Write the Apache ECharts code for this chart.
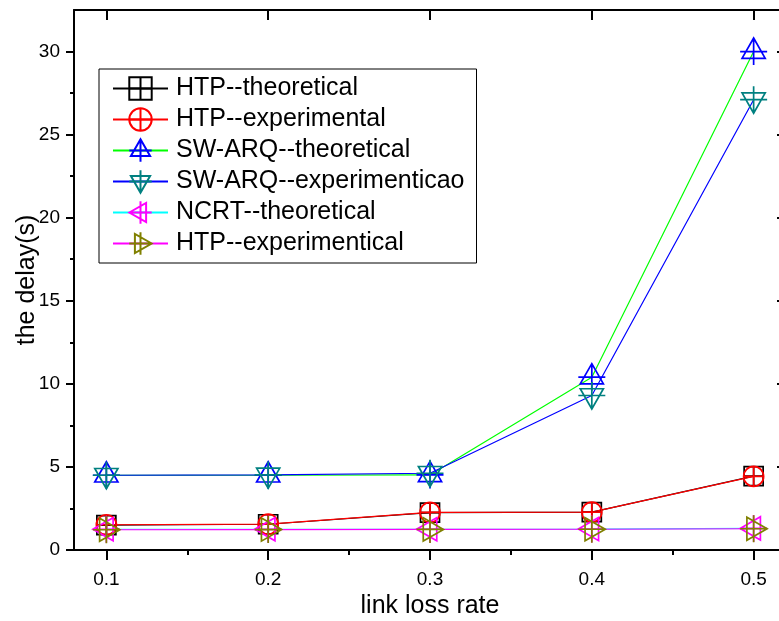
<!DOCTYPE html>
<html>
<head>
<meta charset="utf-8">
<title>Delay vs link loss rate</title>
<script src="https://cdn.jsdelivr.net/npm/echarts@6/dist/echarts.min.js"></script>
<style>
  html, body { margin: 0; padding: 0; background: #ffffff; }
  #chart { width: 779px; height: 621px; }
</style>
</head>
<body>
<div id="chart"></div>
<script>
// Link loss rates on the x axis
const lossRates = [0.1, 0.2, 0.3, 0.4, 0.5];

// Delay (s) for each scheme
const htpTheoretical = [1.5, 1.55, 2.25, 2.28, 4.45];
const htpExperimental = [1.52, 1.56, 2.26, 2.28, 4.43];
const swArqTheoretical = [4.5, 4.5, 4.52, 10.4, 30.0];
const swArqExperimental = [4.5, 4.52, 4.62, 9.3, 27.1];
const ncrtTheoretical = [1.25, 1.25, 1.25, 1.26, 1.3];
const htpExperimentical = [1.22, 1.23, 1.24, 1.25, 1.28];

// Tick positions
const xMajorTicks = [0.1, 0.2, 0.3, 0.4, 0.5];
const xMinorTicks = [0.15, 0.25, 0.35, 0.45];
const yMajorTicks = [0, 5, 10, 15, 20, 25, 30];
const yMinorTicks = [2.5, 7.5, 12.5, 17.5, 22.5, 27.5];

const FONT = 'Liberation Sans, Arial, Helvetica, sans-serif';

// Hollow markers with a cross through the centre
const SYM_SQUARE = 'path://M0,0L20,0L20,20L0,20ZM10,0L10,20M0,10L20,10';
const SYM_CIRCLE = 'path://M0,10A10,10,0,1,1,20,10A10,10,0,1,1,0,10ZM10,0L10,20M0,10L20,10';
const SYM_UP = 'path://M14,0L26,21L2,21ZM14,0L14,28M0,14L28,14';
const SYM_DOWN = 'path://M2,7L26,7L14,28ZM14,0L14,28M0,14L28,14';
const SYM_LEFT = 'path://M0,14L21,2L21,26ZM0,14L28,14M14,0L14,28';
const SYM_RIGHT = 'path://M28,14L7,2L7,26ZM0,14L28,14M14,0L14,28';

function pairs(values) {
  return lossRates.map((x, i) => [x, values[i]]);
}

function makeSeries(name, values, lineColor, markColor, symbol, size) {
  return {
    name: name,
    type: 'line',
    data: pairs(values),
    symbol: symbol,
    symbolSize: size,
    showAllSymbol: true,
    lineStyle: { color: lineColor, width: 1.2 },
    itemStyle: { color: 'rgba(0,0,0,0)', borderColor: markColor, borderWidth: 1.7 },
    emphasis: { disabled: true },
    xAxisIndex: 0,
    yAxisIndex: 0
  };
}

const axisLineStyle = { color: '#000', width: 2 };

const chart = echarts.init(document.getElementById('chart'), null, { renderer: 'canvas' });

chart.setOption({
  animation: false,
  backgroundColor: '#ffffff',
  grid: { left: 74, right: -7, top: 10, bottom: 71, containLabel: false, outerBoundsMode: 'none' },
  legend: {
    orient: 'vertical',
    left: 99,
    top: 69,
    padding: [4, 12, 4, 13],
    itemWidth: 55,
    itemHeight: 28,
    itemGap: 0,
    borderColor: '#000',
    borderWidth: 1,
    backgroundColor: '#ffffff',
    selectedMode: false,
    textStyle: { fontFamily: FONT, fontSize: 25, lineHeight: 31, color: '#000', padding: [0, 0, 0, 3] },
    data: ['HTP--theoretical', 'HTP--experimental', 'SW-ARQ--theoretical',
           'SW-ARQ--experimenticao', 'NCRT--theoretical', 'HTP--experimentical']
  },
  xAxis: [
    {
      type: 'value', min: 0.08, max: 0.52, position: 'bottom',
      name: 'link loss rate', nameLocation: 'middle', nameGap: 40,
      nameTextStyle: { fontFamily: FONT, fontSize: 25, color: '#000' },
      axisLine: { show: true, onZero: false, lineStyle: axisLineStyle },
      axisTick: { show: true, inside: false, length: 10, customValues: xMajorTicks, lineStyle: { color: '#000', width: 2 } },
      axisLabel: { customValues: xMajorTicks, margin: 20, fontFamily: FONT, fontSize: 19, color: '#000',
                   formatter: v => v.toFixed(1) },
      splitLine: { show: false }
    },
    {
      type: 'value', min: 0.08, max: 0.52, position: 'bottom',
      axisLine: { show: false, onZero: false },
      axisTick: { show: true, inside: false, length: 5, customValues: xMinorTicks, lineStyle: { color: '#000', width: 2 } },
      axisLabel: { show: false },
      splitLine: { show: false }
    },
    {
      type: 'value', min: 0.08, max: 0.52, position: 'top',
      axisLine: { show: true, onZero: false, lineStyle: axisLineStyle },
      axisTick: { show: true, inside: true, length: 10, customValues: xMajorTicks, lineStyle: { color: '#000', width: 2 } },
      axisLabel: { show: false },
      splitLine: { show: false }
    }
  ],
  yAxis: [
    {
      type: 'value', min: 0, max: 32.5, position: 'left',
      name: 'the delay(s)', nameLocation: 'middle', nameGap: 34, nameRotate: 90,
      nameMoveOverlap: false,
      nameTextStyle: { fontFamily: FONT, fontSize: 25, color: '#000' },
      axisLine: { show: true, onZero: false, lineStyle: axisLineStyle },
      axisTick: { show: true, inside: false, length: 8, customValues: yMajorTicks, lineStyle: { color: '#000', width: 2 } },
      axisLabel: { customValues: yMajorTicks, margin: 14, fontFamily: FONT, fontSize: 19, color: '#000' },
      splitLine: { show: false }
    },
    {
      type: 'value', min: 0, max: 32.5, position: 'left',
      axisLine: { show: false, onZero: false },
      axisTick: { show: true, inside: false, length: 4, customValues: yMinorTicks, lineStyle: { color: '#000', width: 2 } },
      axisLabel: { show: false },
      splitLine: { show: false }
    },
    {
      type: 'value', min: 0, max: 32.5, position: 'right',
      axisLine: { show: true, onZero: false, lineStyle: axisLineStyle },
      axisTick: { show: true, inside: true, length: 9, customValues: yMajorTicks, lineStyle: { color: '#000', width: 2 } },
      axisLabel: { show: false },
      splitLine: { show: false }
    }
  ],
  series: [
    makeSeries('HTP--theoretical', htpTheoretical, '#000000', '#000000', SYM_SQUARE, 19),
    makeSeries('HTP--experimental', htpExperimental, '#ff0000', '#ff0000', SYM_CIRCLE, 20),
    makeSeries('SW-ARQ--theoretical', swArqTheoretical, '#00ff00', '#0000ff', SYM_UP, 27),
    makeSeries('SW-ARQ--experimenticao', swArqExperimental, '#0000ff', '#008080', SYM_DOWN, 27),
    makeSeries('NCRT--theoretical', ncrtTheoretical, '#00ffff', '#ff00ff', SYM_LEFT, 27),
    makeSeries('HTP--experimentical', htpExperimentical, '#ff00ff', '#808000', SYM_RIGHT, 27)
  ]
});
</script>
</body>
</html>
